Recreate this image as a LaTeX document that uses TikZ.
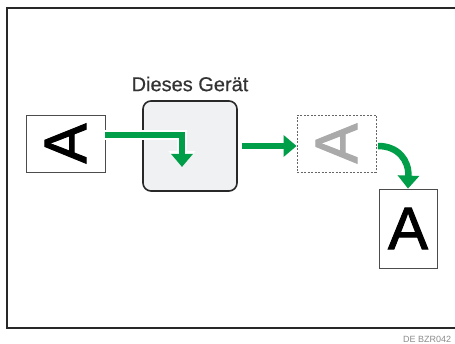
\documentclass[tikz,border=0pt]{standalone}
\usepackage{fontspec}
\setmainfont{Liberation Sans}
\newfontfamily\fatA[FakeBold=1.6]{Liberation Sans}
\newfontfamily\semiA[FakeBold=0.5]{Liberation Sans}
\usetikzlibrary{arrows.meta}
\definecolor{ricohgreen}{RGB}{0,158,72}
\definecolor{framegray}{RGB}{40,40,40}
\definecolor{devfill}{RGB}{240,241,243}
\definecolor{ghostgray}{RGB}{170,170,170}
\tikzset{
  pagebox/.style={draw=black!70, line width=0.8pt, fill=white, inner sep=0pt},
  bigA/.style={font=\fatA\fontsize{60}{60}\selectfont},
  greenarrow/.style={draw=ricohgreen, line width=6.5pt,
    -{Triangle[length=13pt,width=21pt]},
    preaction={draw=white, line width=10pt, -{Triangle[length=16pt,width=26pt]}}},
}
\begin{document}
\begin{tikzpicture}[x=1pt,y=-1pt]
\useasboundingbox (0,0) rectangle (455,344);
\fill[white] (0,0) rectangle (455,344);
% outer frame
\draw[framegray, line width=2pt] (7,8) rectangle (470,328);
\node[anchor=west, text=black!45, font=\fontsize{9}{9}\selectfont, inner sep=0pt] (code) at (403,339) {DE BZR042};
% device
\node[draw=framegray, line width=1.6pt, fill=devfill, rounded corners=8pt,
      minimum width=94pt, minimum height=90pt, inner sep=0pt] (device) at (190,146) {};
\node[text=black!80, font=\semiA\fontsize{20}{20}\selectfont, inner sep=0pt] (label) at (190,84) {Dieses Gerät};
% left page
\node[pagebox, minimum width=79pt, minimum height=57pt] (pageL) at (65.5,143.5) {};
\node[bigA, rotate=90, inner sep=0pt] (AL) at (pageL.center) {A};
% ghost page
\node[draw=black!60, dashed, dash pattern=on 2pt off 1.5pt, line width=0.8pt, inner sep=0pt,
      minimum width=79pt, minimum height=57pt] (ghost) at (336.5,143.5) {};
\node[bigA, rotate=90, text=ghostgray, inner sep=0pt] (AG) at (ghost.center) {A};
% right page
\node[pagebox, minimum width=58pt, minimum height=79pt] (pageR) at (408,228.5) {};
\node[bigA, inner sep=0pt] (AR) at (pageR.center) {A};
% arrows
\coordinate (a1s) at (pageL.east |- 0,135);
\coordinate (a1c) at (182,135);
\coordinate (a1e) at (182,167);
\draw[greenarrow] (a1s) -- (a1c) -- (a1e);
\coordinate (a2s) at (device.east |- 0,146);
\draw[greenarrow] ([xshift=4pt]a2s) -- (ghost.west |- a2s);
\coordinate (a3s) at (378,146);
\draw[greenarrow] (a3s) .. controls (398,146) and (409,160) .. (pageR.north);
\end{tikzpicture}
\end{document}
